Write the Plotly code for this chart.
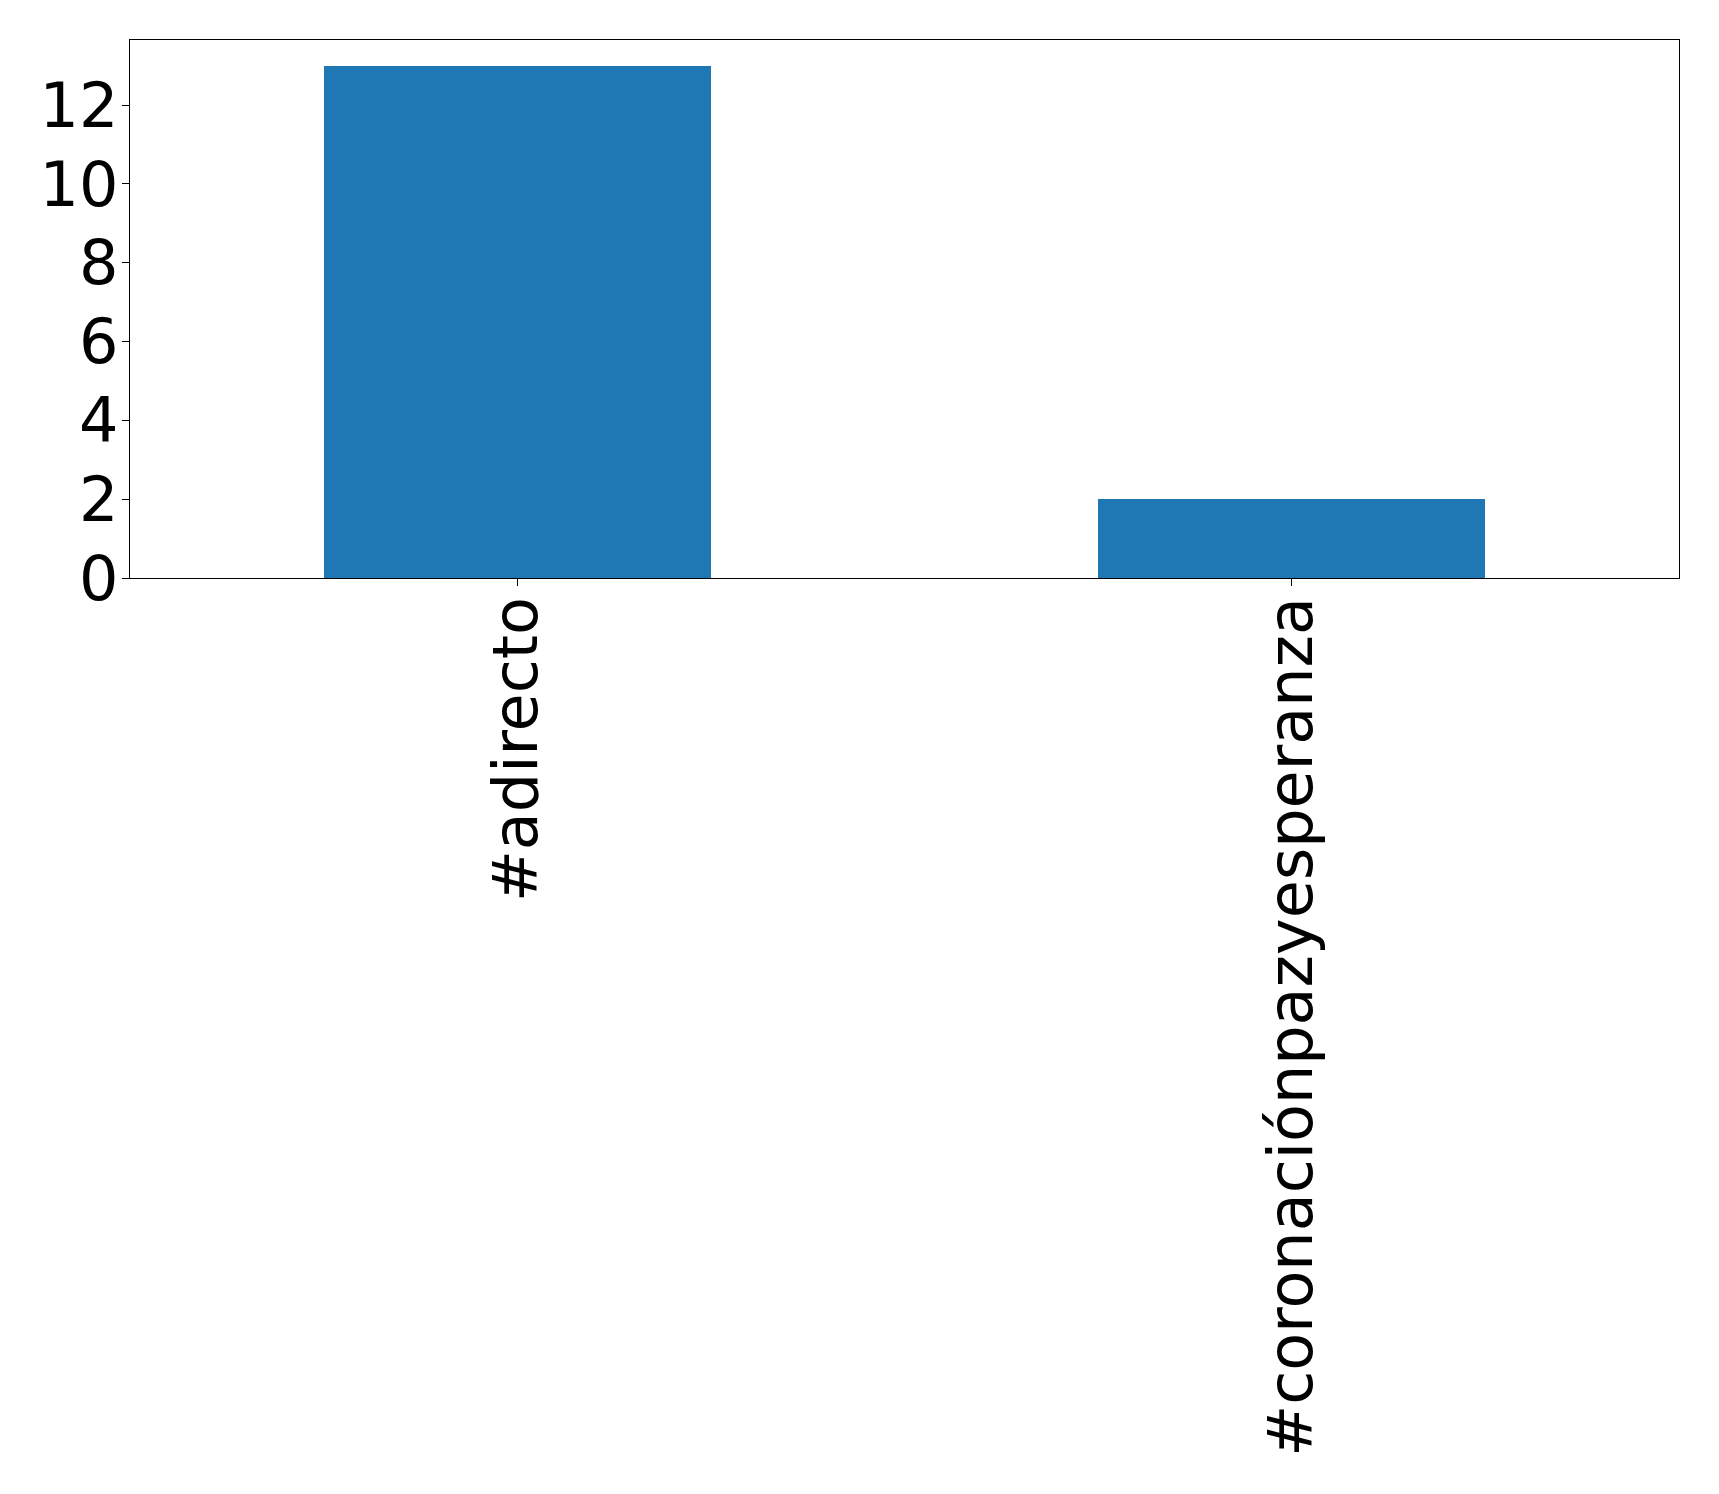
import plotly.graph_objects as go

categories = ["#adirecto", "#coronaciónpazyesperanza"]
values = [13, 2]
y_ticks = [0, 2, 4, 6, 8, 10, 12]

fig = go.Figure(go.Bar(
    x=categories, y=values, width=0.5,
    marker=dict(color="#1f77b4", line=dict(width=0)),
))

fig.update_layout(
    width=1719, height=1494,
    margin=dict(l=121.5, r=48, t=31.5, b=924, pad=0),
    paper_bgcolor="white", plot_bgcolor="white",
    font=dict(family="DejaVu Sans", size=62, color="black"),
    showlegend=False,
    bargap=0,
)
fig.update_xaxes(
    type="category", range=[-0.5, 1.5],
    showline=True, mirror=True, linecolor="black", linewidth=1.3,
    ticks="outside", ticklen=7, tickwidth=1.2, tickcolor="black",
    tickangle=-90, showgrid=False, zeroline=False,
    tickfont=dict(family="DejaVu Sans", size=62, color="black"),
    ticklabelstandoff=-14,
)
fig.update_yaxes(
    range=[0, 13.65], tickvals=y_ticks,
    showline=True, mirror=True, linecolor="black", linewidth=1.3,
    ticks="outside", ticklen=7, tickwidth=1.2, tickcolor="black",
    showgrid=False, zeroline=False,
    tickfont=dict(family="DejaVu Sans", size=62, color="black"),
    ticklabelstandoff=-9,
)

fig.write_html("out.html")
